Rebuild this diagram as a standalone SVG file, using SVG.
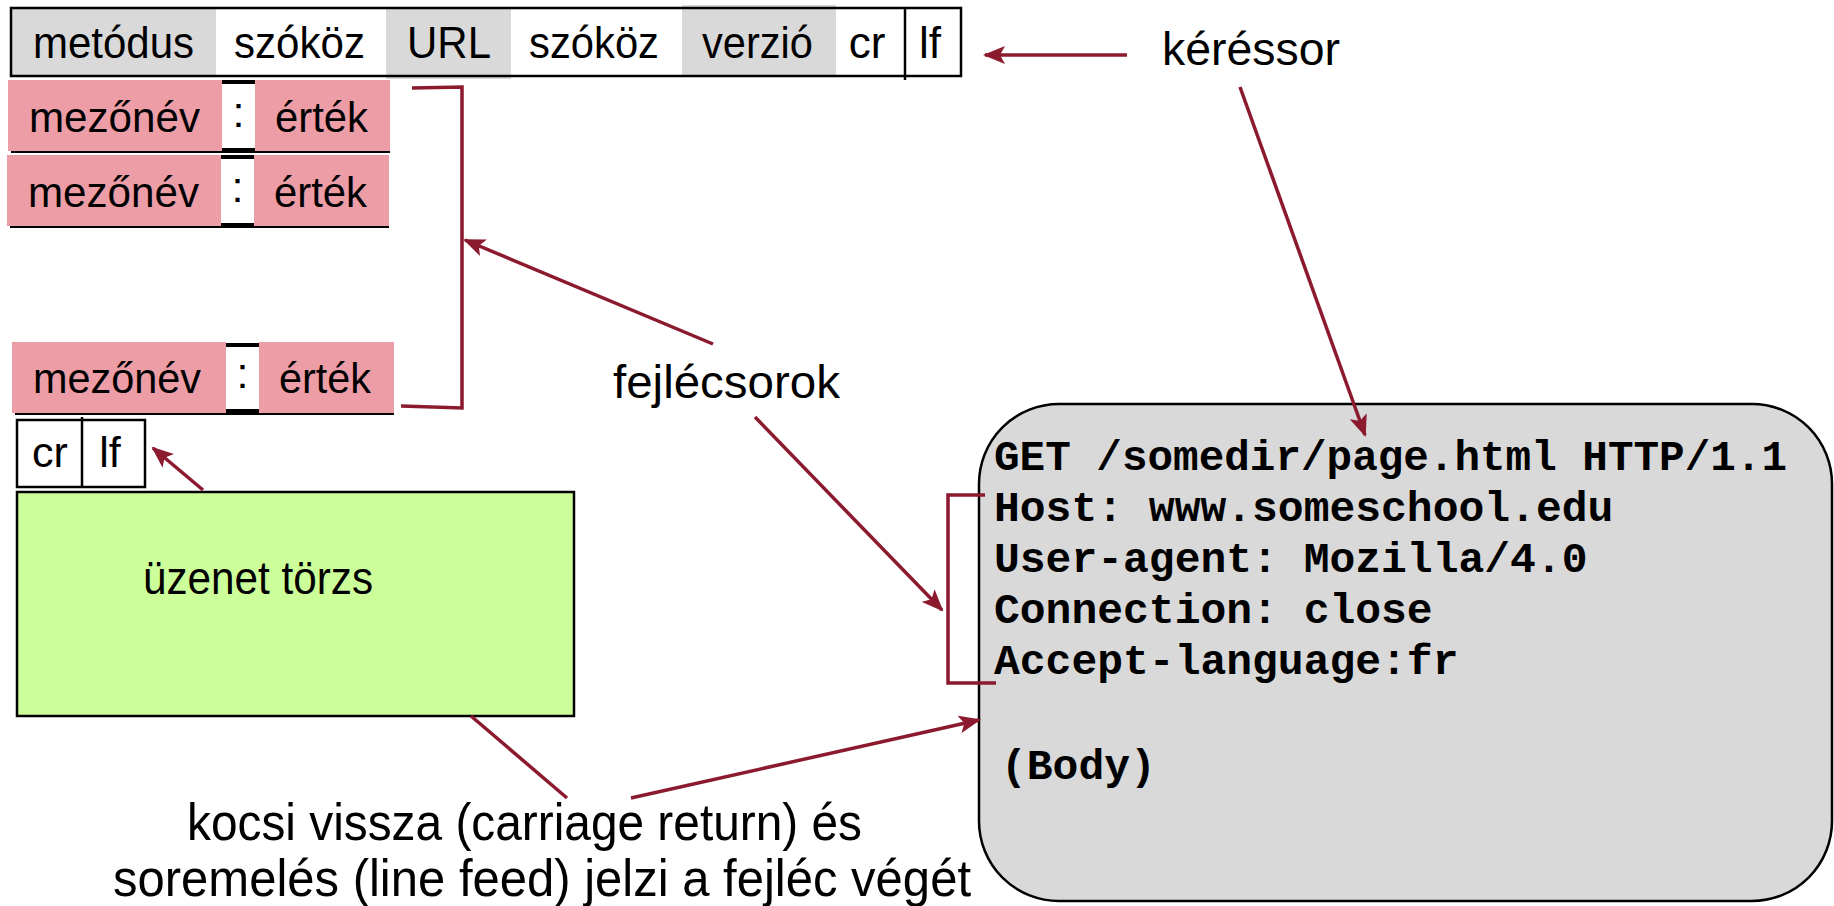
<svg xmlns="http://www.w3.org/2000/svg" width="1834" height="906" viewBox="0 0 1834 906">
<style>
.t{font-family:"Liberation Sans",Arial,sans-serif;fill:#000}
.m{font-family:"Liberation Mono","Courier New",monospace;font-weight:bold;font-size:43px;fill:#000}
.gray{fill:#D9D9D9}
.pink{fill:#ED9DA6}
.bar{stroke:#000;stroke-width:4}
.ul{stroke:#000;stroke-width:2}
.con{stroke:#8C1A2E;stroke-width:3.5;fill:none}
</style>
<defs>
<marker id="ah" markerUnits="userSpaceOnUse" markerWidth="22" markerHeight="18" refX="20" refY="9" orient="auto">
<path d="M0,0 L22,9 L0,18 L5,9 Z" fill="#8C1A2E"/>
</marker>
</defs>
<rect width="1834" height="906" fill="#fff"/>

<g id="request-line">
<rect class="gray" x="11" y="8" width="205" height="68"/>
<rect class="gray" x="386" y="8" width="125" height="71"/>
<rect class="gray" x="682" y="5" width="154" height="71"/>
<rect x="11" y="8" width="950" height="68" fill="none" stroke="#000" stroke-width="2.5"/>
<line x1="905" y1="8" x2="905" y2="80" stroke="#000" stroke-width="2.5"/>
<g class="t" font-size="44">
<text x="33" y="58" textLength="161" lengthAdjust="spacingAndGlyphs">metódus</text>
<text x="234" y="58" textLength="131" lengthAdjust="spacingAndGlyphs">szóköz</text>
<text x="407" y="58" textLength="84" lengthAdjust="spacingAndGlyphs">URL</text>
<text x="529" y="58" textLength="130" lengthAdjust="spacingAndGlyphs">szóköz</text>
<text x="702" y="58" textLength="111" lengthAdjust="spacingAndGlyphs">verzió</text>
<text x="867" y="58" text-anchor="middle">cr</text>
<text x="930" y="58" text-anchor="middle">lf</text>
</g>
</g>

<g id="header-row-1">
<rect class="pink" x="8" y="80" width="214" height="71"/>
<rect class="pink" x="255" y="80" width="135" height="71"/>
<line class="bar" x1="222" y1="82" x2="255" y2="82"/>
<line class="bar" x1="222" y1="150" x2="255" y2="150"/>
<line class="ul" x1="11" y1="152" x2="390" y2="152"/>
<g class="t" font-size="43">
<text x="29" y="132" textLength="171" lengthAdjust="spacingAndGlyphs">mezőnév</text>
<text x="238.5" y="127" text-anchor="middle">:</text>
<text x="275" y="132" textLength="93" lengthAdjust="spacingAndGlyphs">érték</text>
</g>
</g>

<g id="header-row-2">
<rect class="pink" x="7" y="155" width="214" height="71"/>
<rect class="pink" x="254" y="155" width="135" height="71"/>
<line class="bar" x1="221" y1="157" x2="254" y2="157"/>
<line class="bar" x1="221" y1="225" x2="254" y2="225"/>
<line class="ul" x1="10" y1="227" x2="389" y2="227"/>
<g class="t" font-size="43">
<text x="28" y="207" textLength="171" lengthAdjust="spacingAndGlyphs">mezőnév</text>
<text x="237.5" y="202" text-anchor="middle">:</text>
<text x="274" y="207" textLength="93" lengthAdjust="spacingAndGlyphs">érték</text>
</g>
</g>

<g id="header-row-3">
<rect class="pink" x="12" y="342" width="214" height="71"/>
<rect class="pink" x="259" y="342" width="135" height="71"/>
<line class="bar" x1="226" y1="345" x2="259" y2="345"/>
<line class="bar" x1="226" y1="411" x2="259" y2="411"/>
<line class="ul" x1="15" y1="414" x2="394" y2="414"/>
<g class="t" font-size="43">
<text x="33" y="393" textLength="168" lengthAdjust="spacingAndGlyphs">mezőnév</text>
<text x="242.5" y="388" text-anchor="middle">:</text>
<text x="279" y="393" textLength="92" lengthAdjust="spacingAndGlyphs">érték</text>
</g>
</g>

<g id="crlf">
<rect x="17" y="420" width="128" height="67" fill="#fff" stroke="#000" stroke-width="2.5"/>
<line x1="82" y1="417" x2="82" y2="487" stroke="#000" stroke-width="2.5"/>
<g class="t" font-size="43">
<text x="50" y="467" text-anchor="middle">cr</text>
<text x="110" y="467" text-anchor="middle">lf</text>
</g>
</g>

<g id="body">
<rect x="17" y="492" width="557" height="224" fill="#CCFF99" stroke="#000" stroke-width="2.5"/>
<text class="t" x="143" y="594" font-size="46" textLength="230" lengthAdjust="spacingAndGlyphs">üzenet törzs</text>
</g>

<g id="label-keressor">
<text class="t" x="1162" y="65" font-size="46" textLength="178" lengthAdjust="spacingAndGlyphs">kéréssor</text>
</g>

<g id="label-fejlecsorok">
<text class="t" x="613" y="398" font-size="47" textLength="227" lengthAdjust="spacingAndGlyphs">fejlécsorok</text>
</g>

<g id="label-crlf">
<text class="t" x="187" y="840" font-size="52" textLength="675" lengthAdjust="spacingAndGlyphs">kocsi vissza (carriage return) és</text>
<text class="t" x="113" y="896" font-size="52" textLength="858" lengthAdjust="spacingAndGlyphs">soremelés (line feed) jelzi a fejléc végét</text>
</g>

<g id="example">
<rect x="979" y="404" width="853" height="497" rx="80" ry="80" fill="#D9D9D9" stroke="#000" stroke-width="2.5"/>
<text class="m" x="994" y="470" textLength="793" lengthAdjust="spacingAndGlyphs">GET /somedir/page.html HTTP/1.1</text>
<text class="m" x="994" y="521">Host: www.someschool.edu</text>
<text class="m" x="994" y="572">User-agent: Mozilla/4.0</text>
<text class="m" x="994" y="623">Connection: close</text>
<text class="m" x="994" y="674">Accept-language:fr</text>
<text class="m" x="1001" y="779">(Body)</text>
</g>

<g id="connectors">
<path class="con" d="M412,88 L462,87 L462,408 L401,406"/>
<path class="con" d="M985,495 L948,495 L948,683 L996,683"/>
<line class="con" x1="1127" y1="55" x2="985" y2="55" marker-end="url(#ah)"/>
<line class="con" x1="1240" y1="87" x2="1365" y2="435" marker-end="url(#ah)"/>
<line class="con" x1="713" y1="344" x2="465" y2="240" marker-end="url(#ah)"/>
<line class="con" x1="755" y1="417" x2="942" y2="610" marker-end="url(#ah)"/>
<line class="con" x1="203" y1="490" x2="153" y2="448" marker-end="url(#ah)"/>
<line class="con" x1="471" y1="716" x2="567" y2="798"/>
<line class="con" x1="631" y1="798" x2="979" y2="720" marker-end="url(#ah)"/>
</g>
</svg>
